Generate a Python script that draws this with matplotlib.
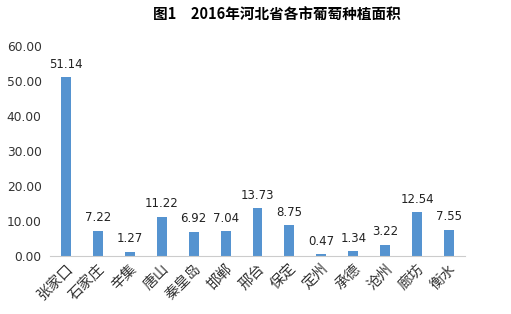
import matplotlib.pyplot as plt
import numpy as np

plt.rcParams['font.family'] = ['Noto Sans CJK SC', 'DejaVu Sans']

cities = ['张家口', '石家庄', '辛集', '唐山', '秦皇岛', '邯郸', '邢台',
          '保定', '定州', '承德', '沧州', '廊坊', '衡水']
area = [51.14, 7.22, 1.27, 11.22, 6.92, 7.04, 13.73,
        8.75, 0.47, 1.34, 3.22, 12.54, 7.55]
yticks = [0, 10, 20, 30, 40, 50, 60]

fig = plt.figure(figsize=(5.11, 3.14), dpi=100)
ax = fig.add_axes([50 / 511, 58 / 314, 415 / 511, 210 / 314])

x = np.arange(len(cities))
ax.bar(x, area, width=0.31, color='#5593d0')

for xi, v in zip(x, area):
    ax.text(xi, v + 1.8, f'{v:.2f}', ha='center', va='bottom',
            fontsize=8.5, family='DejaVu Sans', color='#222222')

ax.set_xlim(-0.5, len(cities) - 0.5)
ax.set_ylim(0, 60)
ax.set_yticks(yticks)
ax.set_yticklabels([f'{t:.2f}' for t in yticks], fontsize=8.8,
                   family='DejaVu Sans', color='#333333')
ax.set_xticks(x)
ax.set_xticklabels(cities, rotation=45, ha='right', va='top',
                   rotation_mode='anchor', fontsize=10.5, color='#333333')

for s in ['top', 'right', 'left']:
    ax.spines[s].set_visible(False)
ax.spines['bottom'].set_color('#cccccc')
ax.tick_params(axis='both', length=0)
ax.tick_params(axis='y', pad=6)
ax.tick_params(axis='x', pad=4)

fig.text(277 / 511, 1 - 15 / 314, '图1　2016年河北省各市葡萄种植面积',
         ha='center', va='center', fontsize=10.5, fontweight='bold')

fig.savefig('out.png', dpi=100)
